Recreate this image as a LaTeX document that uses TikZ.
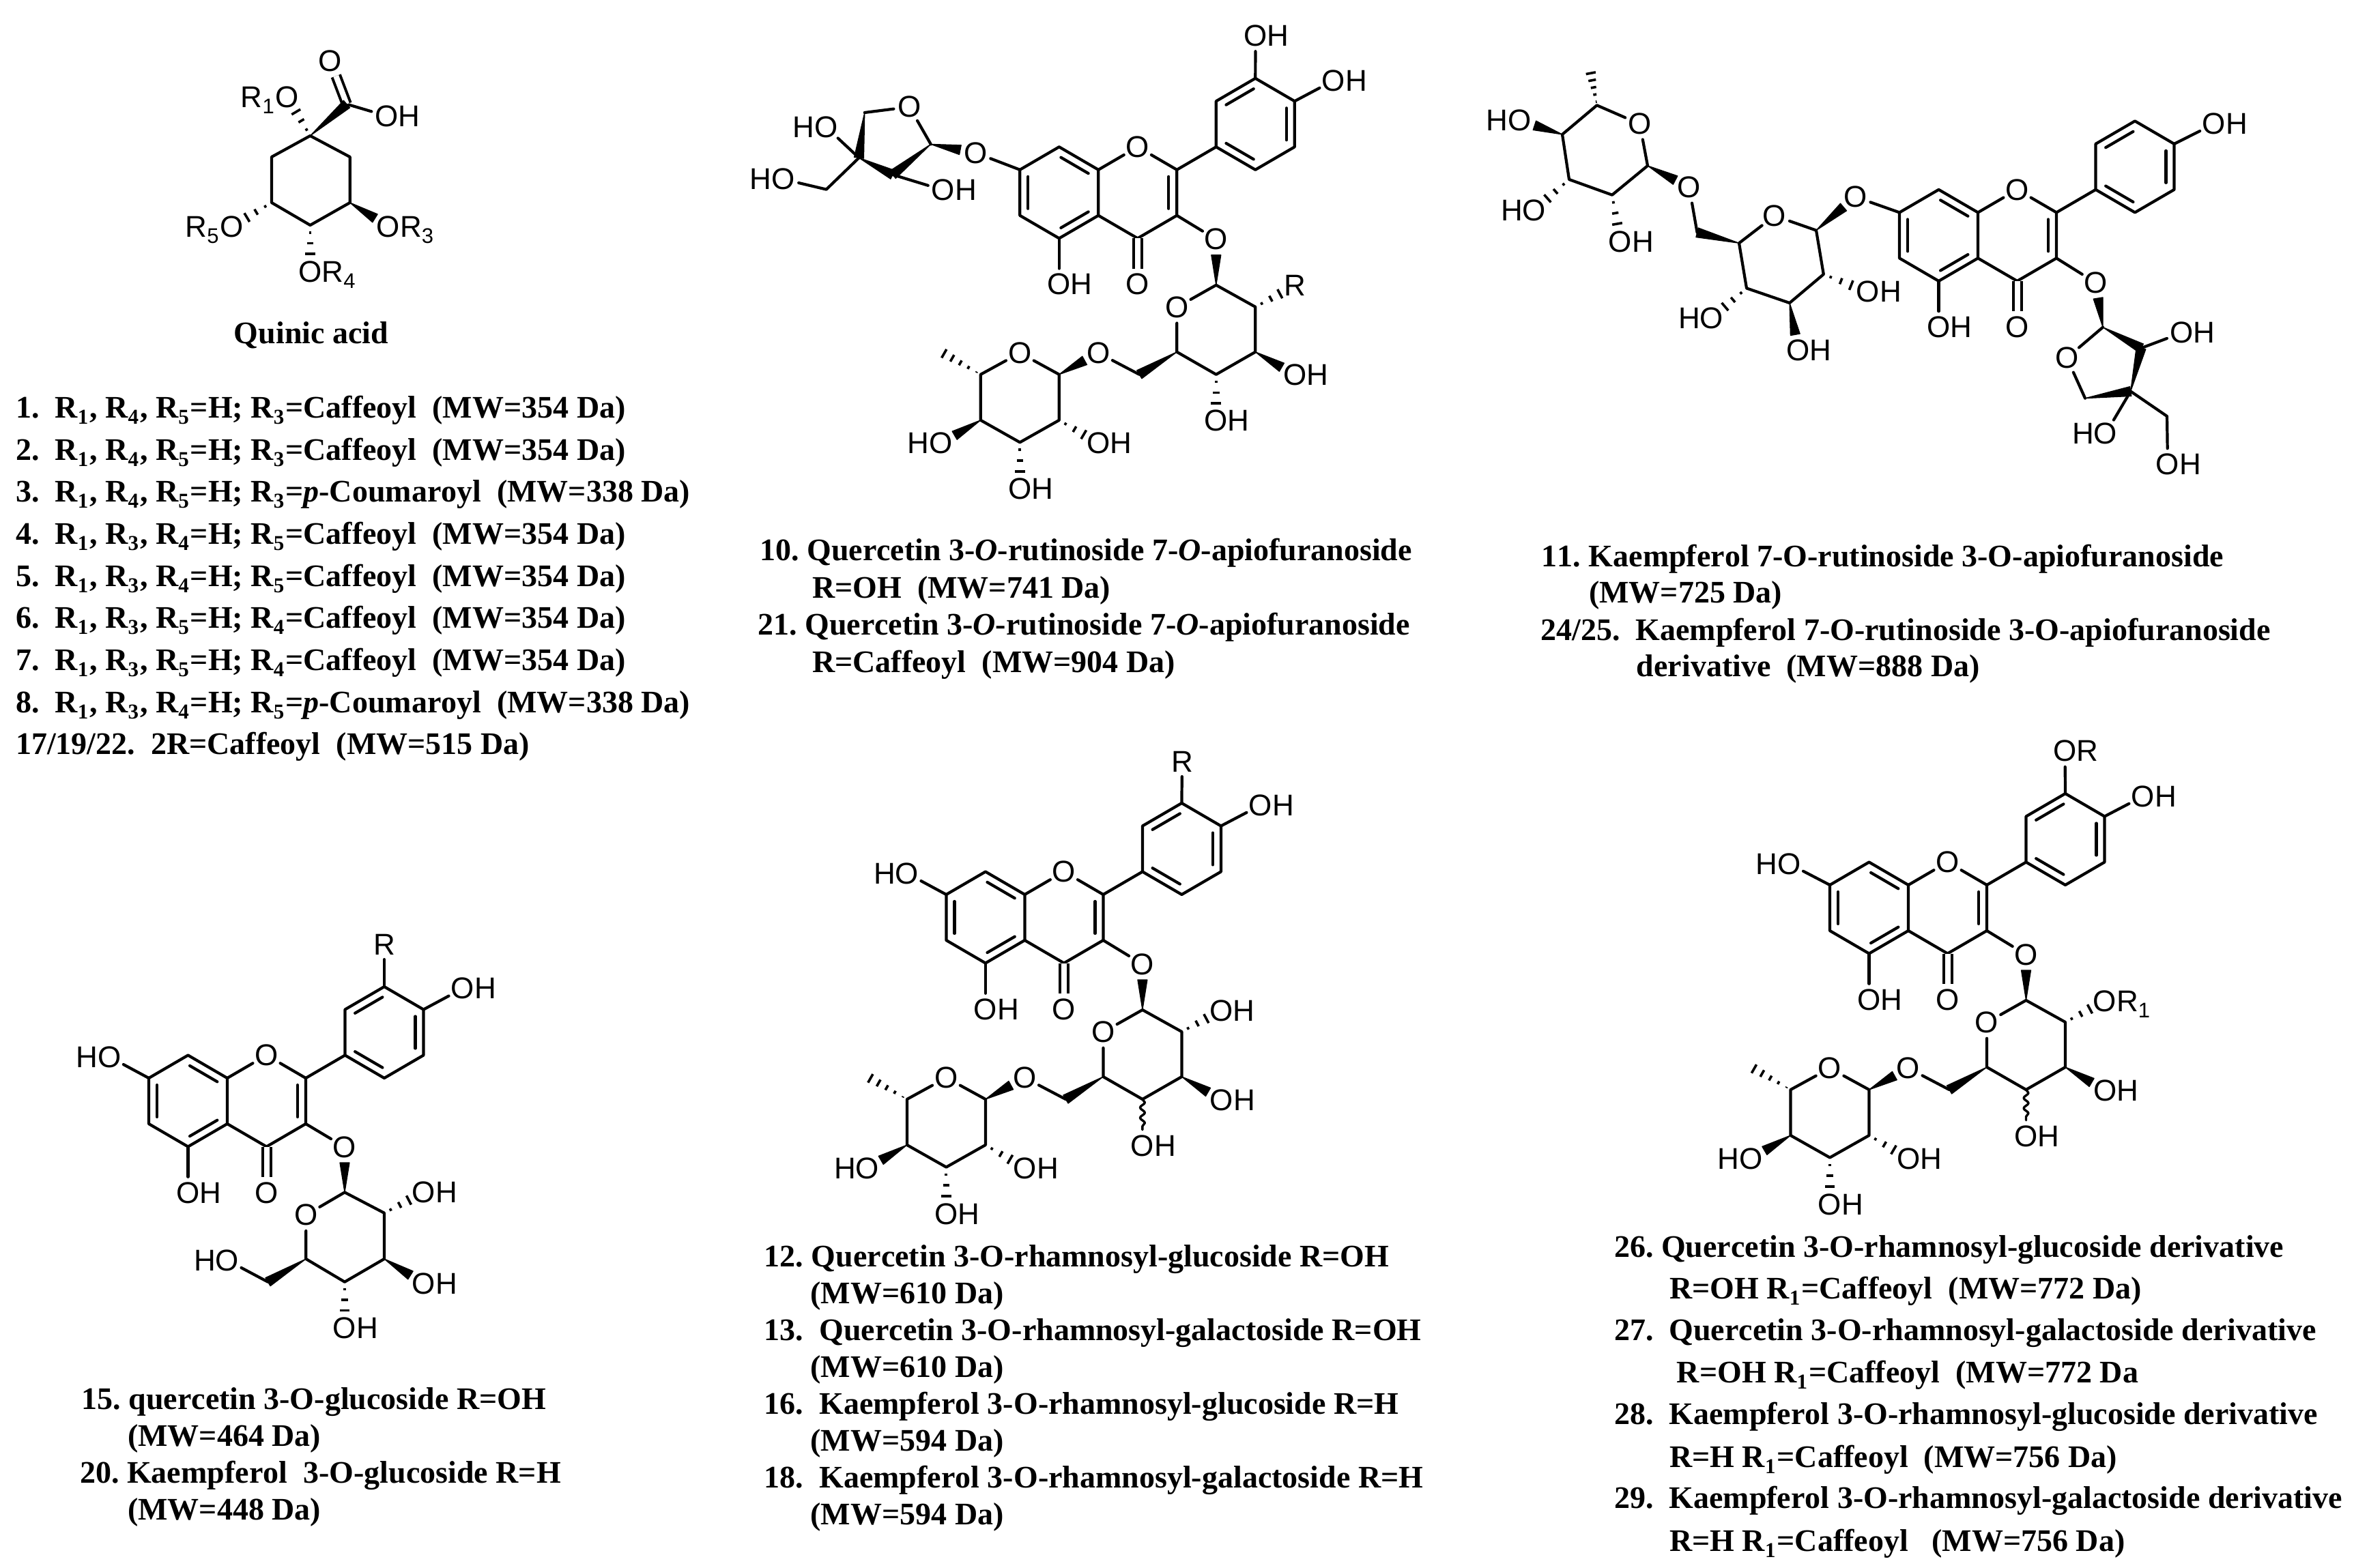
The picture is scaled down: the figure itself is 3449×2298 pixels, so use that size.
\documentclass[tikz,border=0pt]{standalone}
\usepackage{fontspec}
\setmainfont{Liberation Serif}[Kerning=Off]
\newfontfamily\atomfont{Liberation Sans}
\usetikzlibrary{calc,decorations.pathmorphing}
\frenchspacing

\tikzset{
    atom/.style={circle, inner sep=0pt, font=\atomfont\fontsize{44}{44}\selectfont},
    bond/.style={line width=4.2pt, line cap=round, line join=round},
    dbond/.style={line width=4pt, double, double distance=8pt},
    wdg/.style={fill=black, draw=black, line width=1.2pt, line join=round},
    entry/.style={anchor=base west, inner sep=0pt, font=\fontsize{46}{50}\selectfont\bfseries}
}

\newcommand{\rsub}[1]{\smash{\raisebox{-9pt}{\fontsize{31}{31}\selectfont #1}}\kern2pt}
\newcommand{\ohr}{O\rlap{H}}
\newcommand{\ohl}{\llap{H}O}

% ring double bond, inner line on the left of a->b
\newcommand{\dbl}[2]{\draw[bond] ($(#1)!.15!(#2)!12pt!90:(#2)$) -- ($(#2)!.15!(#1)!12pt!-90:(#1)$);}
% wedge ending on a carbon, wedge ending at an atom label
\newcommand{\wedgeb}[2]{\fill[wdg] (#1) -- ($(#2)!7pt!90:(#1)$) -- ($(#2)!7pt!-90:(#1)$) -- cycle;}
\newcommand{\wedgeo}[2]{\coordinate (wend) at ($(#2)!23pt!(#1)$); \wedgeb{#1}{wend}}
% hashed bonds, to an atom label and to a methyl end
\newcommand{\hashb}[2]{\foreach \f in {.16,.39,.62} {\draw[line width=3.6pt] ($(#1)!\f!(#2)!\f*12pt!90:(#2)$) -- ($(#1)!\f!(#2)!\f*12pt!-90:(#2)$);}}
\newcommand{\hashm}[2]{\foreach \f in {.1,.3,.5,.7,.9} {\draw[line width=3.6pt] ($(#1)!\f!(#2)!\f*8pt!90:(#2)$) -- ($(#1)!\f!(#2)!\f*8pt!-90:(#2)$);}}
\newcommand{\wavyb}[2]{\draw[bond, line width=3.4pt, decorate, decoration={snake, amplitude=3.5pt, segment length=15pt}] (#1) -- (#2);}

% flavone skeleton, origin on C8a
\newcommand{\flavcore}{
    \coordinate (c8a) at (0,0);
    \coordinate (c4a) at (0,67);
    \coordinate (c8) at (-57.5,-33.5);
    \coordinate (c7) at (-115,0);
    \coordinate (c6) at (-115,67);
    \coordinate (c5) at (-57.5,100.5);
    \coordinate (c4) at (57.5,100.5);
    \coordinate (c3) at (115,67);
    \coordinate (c2) at (115,0);
    \coordinate (b1) at (172.5,-33.5);
    \coordinate (b2) at (172.5,-100.5);
    \coordinate (b3) at (230,-134);
    \coordinate (b4) at (287.5,-100.5);
    \coordinate (b5) at (287.5,-33.5);
    \coordinate (b6) at (230,0);
    \node[atom] (o1) at (57.5,-33.5) {O};
    \node[atom] (o4) at (57.5,168) {O};
    \node[atom] (o5) at (-57.5,168) {\ohr};
    \draw[bond] (c7) -- (c8) -- (c8a) -- (c4a) -- (c5) -- (c6) -- cycle;
    \draw[bond] (c8a) -- (o1) -- (c2) -- (c3) -- (c4) -- (c4a);
    \draw[bond] (b1) -- (b2) -- (b3) -- (b4) -- (b5) -- (b6) -- cycle;
    \draw[bond] (c2) -- (b1);
    \draw[bond] (c5) -- (o5);
    \draw[dbond] (c4) -- (o4);
    \dbl{c8a}{c8} \dbl{c7}{c6} \dbl{c5}{c4a} \dbl{c3}{c2}
    \dbl{b1}{b6} \dbl{b5}{b4} \dbl{b3}{b2}
}

% 3-O-rutinoside: #1 text on the glucose C2, #2 bond of the glucose C4 hydroxyl
\newcommand{\rutinoside}[2]{
    \node[atom] (o3) at (172.5,102) {O};
    \node[atom] (go) at (115,201.5) {O};
    \node[atom] (g2x) at (288,170) {#1};
    \node[atom] (g3x) at (288.5,301) {\ohr};
    \node[atom] (g4x) at (172.5,368) {\ohr};
    \node[atom] (o6) at (0,268.5) {O};
    \node[atom] (ro) at (-115,268.5) {O};
    \node[atom] (r4x) at (-230.5,401) {\ohl};
    \node[atom] (r2x) at (0.5,401) {\ohr};
    \node[atom] (r3x) at (-115,468) {\ohr};
    \coordinate (g1) at (172.5,169);
    \coordinate (g2) at (230,201);
    \coordinate (g3) at (230,267);
    \coordinate (g4) at (172.5,300);
    \coordinate (g5) at (115,267);
    \coordinate (g6) at (60,300);
    \coordinate (r1) at (-57.5,300);
    \coordinate (r2) at (-57.5,367);
    \coordinate (r3) at (-115,399.5);
    \coordinate (r4) at (-172.5,367);
    \coordinate (r5) at (-172.5,300);
    \coordinate (rm) at (-232,266);
    \draw[bond] (c3) -- (o3);
    \draw[bond] (g1) -- (g2) -- (g3) -- (g4) -- (g5) -- (go) -- (g1);
    \draw[bond] (g6) -- (o6);
    \draw[bond] (r1) -- (r2) -- (r3) -- (r4) -- (r5) -- (ro) -- (r1);
    \wedgeo{g1}{o3} \hashb{g2}{g2x} \wedgeo{g3}{g3x} #2{g4}{g4x}
    \wedgeb{g5}{g6} \wedgeo{r1}{o6} \hashm{r5}{rm}
    \wedgeo{r4}{r4x} \hashb{r2}{r2x} \hashb{r3}{r3x}
}

\begin{document}
\begin{tikzpicture}[x=1pt, y=-1pt]
    \useasboundingbox (0,0) rectangle (3449,2298);

    % quinic acid
    \begin{scope}[name prefix=qa-]
        \coordinate (c1) at (454.5,199);
        \coordinate (c2) at (512.7,230);
        \coordinate (c3) at (512.7,297);
        \coordinate (c4) at (454.5,330);
        \coordinate (c5) at (398,297);
        \coordinate (c6) at (398,230);
        \coordinate (cc) at (508,152.6);
        \node[atom] (oa) at (484,89.6) {O};
        \node[atom] (ob) at (566.6,170) {\ohr};
        \node[atom] (o1) at (421,142.6) {\llap{R\rsub{1}}O};
        \node[atom] (o3) at (569,332) {O\rlap{R\rsub{3}}};
        \node[atom] (o4) at (454.5,398) {O\rlap{R\rsub{4}}};
        \node[atom] (o5) at (339.7,332) {\llap{R\rsub{5}}O};
        \draw[bond] (c1) -- (c2) -- (c3) -- (c4) -- (c5) -- (c6) -- cycle;
        \draw[bond] (cc) -- (ob);
        \draw[dbond] (cc) -- (oa);
        \wedgeb{c1}{cc} \hashb{c1}{o1} \wedgeo{c3}{o3} \hashb{c4}{o4} \hashb{c5}{o5}
    \end{scope}
    \node[entry, anchor=base] (qatitle) at (456,503) {Quinic acid};

    % quercetin rutinoside apiofuranoside
    \begin{scope}[name prefix=qr-]
        \begin{scope}[shift={(1609.3,248.8)}]
            \flavcore
            \rutinoside{R}{\hashb}
        \end{scope}
        \node[atom] (o3p) at (1839.5,52) {\ohr};
        \node[atom] (o4p) at (1954,118) {\ohr};
        \node[atom] (o7) at (1429.5,224) {O};
        \node[atom] (fo) at (1332.5,156.7) {O};
        \node[atom] (fx3) at (1210.7,186.6) {\ohl};
        \node[atom] (fx5) at (1147.6,262.7) {\ohl};
        \node[atom] (fx2) at (1382,278.6) {\ohr};
        \coordinate (f1) at (1363.8,211.4);
        \coordinate (f2) at (1308,256);
        \coordinate (f3) at (1258.5,231.3);
        \coordinate (f4) at (1266.8,165);
        \coordinate (f5) at (1210.7,277.6);
        \draw[bond] (b3) -- (o3p);
        \draw[bond] (b4) -- (o4p);
        \draw[bond] (c7) -- (o7);
        \draw[bond] (f1) -- (fo) -- (f4);
        \draw[bond] (f3) -- (fx3);
        \draw[bond] (f3) -- (f5) -- (fx5);
        \draw[bond] (f2) -- (fx2);
        \wedgeo{f1}{o7} \wedgeb{f4}{f3} \wedgeb{f3}{f2} \wedgeb{f1}{f2}
    \end{scope}

    % kaempferol rutinoside apiofuranoside
    \begin{scope}[name prefix=kr-]
        \begin{scope}[shift={(2898,311.4)}]
            \flavcore
        \end{scope}
        \node[atom] (o4p) at (3244,181.6) {\ohr};
        \node[atom] (o7) at (2718.5,288.6) {O};
        \node[atom] (go) at (2600,316.3) {O};
        \node[atom] (o6) at (2475,274.7) {O};
        \node[atom] (ro) at (2402.5,181.6) {O};
        \node[atom] (g2x) at (2737,427.8) {\ohr};
        \node[atom] (g3x) at (2634.3,513) {\ohr};
        \node[atom] (g4x) at (2508,466) {\ohl};
        \node[atom] (r4x) at (2226.5,176.7) {\ohl};
        \node[atom] (r3x) at (2248,308) {\ohl};
        \node[atom] (r2x) at (2374,354) {\ohr};
        \coordinate (g1) at (2661,337.6);
        \coordinate (g2) at (2671.8,402);
        \coordinate (g3) at (2622,444);
        \coordinate (g4) at (2559,422.4);
        \coordinate (g5) at (2548,356.3);
        \coordinate (g6) at (2486.6,340.8);
        \coordinate (r1) at (2414,242.9);
        \coordinate (r2) at (2362,285.7);
        \coordinate (r3) at (2299,263);
        \coordinate (r4) at (2289,197);
        \coordinate (r5) at (2339.7,154.3);
        \coordinate (rm) at (2329.8,102);
        \node[atom] (o3) at (3070.4,414.3) {O};
        \node[atom] (ao) at (3028.3,524.5) {O};
        \node[atom] (ax2) at (3196.7,487.8) {\ohr};
        \node[atom] (ax3) at (3085,635.5) {\ohl};
        \node[atom] (ax5) at (3176,680.4) {\ohr};
        \coordinate (a1) at (3081,479.6);
        \coordinate (a2) at (3137,510.2);
        \coordinate (a3) at (3121.7,573.5);
        \coordinate (a4) at (3055,583.7);
        \coordinate (a5) at (3175,610);
        \draw[bond] (b4) -- (o4p);
        \draw[bond] (c7) -- (o7);
        \draw[bond] (g1) -- (g2) -- (g3) -- (g4) -- (g5) -- (go) -- (g1);
        \draw[bond] (g6) -- (o6);
        \draw[bond] (r1) -- (r2) -- (r3) -- (r4) -- (r5) -- (ro) -- (r1);
        \wedgeo{g1}{o7} \hashb{g2}{g2x} \wedgeo{g3}{g3x} \hashb{g4}{g4x}
        \wedgeb{g5}{g6} \wedgeo{r1}{o6} \hashm{r5}{rm}
        \wedgeo{r4}{r4x} \hashb{r3}{r3x} \hashb{r2}{r2x}
        \draw[bond] (c3) -- (o3);
        \draw[bond] (a1) -- (ao) -- (a4);
        \draw[bond] (a2) -- (ax2);
        \draw[bond] (a3) -- (ax3);
        \draw[bond] (a3) -- (a5) -- (ax5);
        \wedgeo{a1}{o3} \wedgeb{a1}{a2} \wedgeb{a3}{a2} \wedgeb{a4}{a3}
    \end{scope}

    % flavonol 3-O-glucoside
    \begin{scope}[name prefix=fg-]
        \begin{scope}[shift={(333,1580)}]
            \flavcore
        \end{scope}
        \node[atom] (rr) at (563,1384) {R};
        \node[atom] (o4p) at (678,1448.6) {\ohr};
        \node[atom] (o7) at (160.4,1549) {\ohl};
        \node[atom] (o3) at (505,1681) {O};
        \node[atom] (go) at (448.3,1780.6) {O};
        \node[atom] (g2x) at (621,1747.4) {\ohr};
        \node[atom] (g3x) at (621,1881) {\ohr};
        \node[atom] (g4x) at (505,1946) {\ohr};
        \node[atom] (g6x) at (333,1847) {\ohl};
        \coordinate (g1) at (505,1747.4);
        \coordinate (g2) at (563,1777.7);
        \coordinate (g3) at (563,1845);
        \coordinate (g4) at (505,1878.7);
        \coordinate (g5) at (448.3,1845);
        \coordinate (g6) at (392.5,1878.7);
        \draw[bond] (b3) -- (rr);
        \draw[bond] (b4) -- (o4p);
        \draw[bond] (c7) -- (o7);
        \draw[bond] (c3) -- (o3);
        \draw[bond] (g1) -- (g2) -- (g3) -- (g4) -- (g5) -- (go) -- (g1);
        \draw[bond] (g6) -- (g6x);
        \wedgeo{g1}{o3} \hashb{g2}{g2x} \wedgeo{g3}{g3x} \hashb{g4}{g4x} \wedgeb{g5}{g6}
    \end{scope}

    % flavonol 3-O-rhamnosyl-hexoside
    \begin{scope}[name prefix=fr-]
        \begin{scope}[shift={(1501.4,1311)}]
            \flavcore
            \rutinoside{\ohr}{\wavyb}
        \end{scope}
        \node[atom] (rr) at (1732,1116) {R};
        \node[atom] (o4p) at (1847,1180) {\ohr};
        \node[atom] (o7) at (1329,1280) {\ohl};
        \draw[bond] (b3) -- (rr);
        \draw[bond] (b4) -- (o4p);
        \draw[bond] (c7) -- (o7);
    \end{scope}

    % acylated flavonol 3-O-rhamnosyl-hexoside
    \begin{scope}[name prefix=fa-]
        \begin{scope}[shift={(2796,1297)}]
            \flavcore
            \rutinoside{O\rlap{R\rsub{1}}}{\wavyb}
        \end{scope}
        \node[atom] (rr) at (3025.5,1100.6) {O\rlap{R}};
        \node[atom] (o4p) at (3140,1167) {\ohr};
        \node[atom] (o7) at (2621.4,1266) {\ohl};
        \draw[bond] (b3) -- (rr);
        \draw[bond] (b4) -- (o4p);
        \draw[bond] (c7) -- (o7);
    \end{scope}

    % compound lists
    \node[entry] (l1) at (23,612) {1.~~R\rsub{1}, R\rsub{4}, R\rsub{5}=H; R\rsub{3}=Caffeoyl~~(MW=354 Da)};
    \node[entry] (l2) at (23,674) {2.~~R\rsub{1}, R\rsub{4}, R\rsub{5}=H; R\rsub{3}=Caffeoyl~~(MW=354 Da)};
    \node[entry] (l3) at (23,735.7) {3.~~R\rsub{1}, R\rsub{4}, R\rsub{5}=H; R\rsub{3}=\textit{p}-Coumaroyl~~(MW=338 Da)};
    \node[entry] (l4) at (23,797) {4.~~R\rsub{1}, R\rsub{3}, R\rsub{4}=H; R\rsub{5}=Caffeoyl~~(MW=354 Da)};
    \node[entry] (l5) at (23,859) {5.~~R\rsub{1}, R\rsub{3}, R\rsub{4}=H; R\rsub{5}=Caffeoyl~~(MW=354 Da)};
    \node[entry] (l6) at (23,920.7) {6.~~R\rsub{1}, R\rsub{3}, R\rsub{5}=H; R\rsub{4}=Caffeoyl~~(MW=354 Da)};
    \node[entry] (l7) at (23,982) {7.~~R\rsub{1}, R\rsub{3}, R\rsub{5}=H; R\rsub{4}=Caffeoyl~~(MW=354 Da)};
    \node[entry] (l8) at (23,1044) {8.~~R\rsub{1}, R\rsub{3}, R\rsub{4}=H; R\rsub{5}=\textit{p}-Coumaroyl~~(MW=338 Da)};
    \node[entry] (l9) at (23,1105.7) {17/19/22.~~2R=Caffeoyl~~(MW=515 Da)};

    \node[entry] (m1) at (1113,821.7) {10. Quercetin 3-\textit{O}-rutinoside 7-\textit{O}-apiofuranoside};
    \node[entry] (m2) at (1190,876.7) {R=OH~~(MW=741 Da)};
    \node[entry] (m3) at (1110,930.7) {21. Quercetin 3-\textit{O}-rutinoside 7-\textit{O}-apiofuranoside};
    \node[entry] (m4) at (1190,985) {R=Caffeoyl~~(MW=904 Da)};

    \node[entry] (k1) at (2258.6,830) {11. Kaempferol 7-O-rutinoside 3-O-apiofuranoside};
    \node[entry] (k2) at (2328,883) {(MW=725 Da)};
    \node[entry] (k3) at (2257,938) {24/25.~~Kaempferol 7-O-rutinoside 3-O-apiofuranoside};
    \node[entry] (k4) at (2397.7,991.7) {derivative~~(MW=888 Da)};

    \node[entry] (g1t) at (119.4,2065) {15. quercetin 3-O-glucoside R=OH};
    \node[entry] (g2t) at (187,2119) {(MW=464 Da)};
    \node[entry] (g3t) at (117,2173) {20. Kaempferol~~3-O-glucoside R=H};
    \node[entry] (g4t) at (187,2227) {(MW=448 Da)};

    \node[entry] (h1) at (1119.7,1856) {12. Quercetin 3-O-rhamnosyl-glucoside R=OH};
    \node[entry] (h2) at (1187.4,1910) {(MW=610 Da)};
    \node[entry] (h3) at (1119.7,1964) {13.~~Quercetin 3-O-rhamnosyl-galactoside R=OH};
    \node[entry] (h4) at (1187.4,2018.3) {(MW=610 Da)};
    \node[entry] (h5) at (1119.7,2072.3) {16.~~Kaempferol 3-O-rhamnosyl-glucoside R=H};
    \node[entry] (h6) at (1187.4,2126.7) {(MW=594 Da)};
    \node[entry] (h7) at (1119.7,2180) {18.~~Kaempferol 3-O-rhamnosyl-galactoside R=H};
    \node[entry] (h8) at (1187.4,2234.3) {(MW=594 Da)};

    \node[entry] (d1) at (2364.8,1842.3) {26. Quercetin 3-O-rhamnosyl-glucoside derivative};
    \node[entry] (d2) at (2446,1903) {R=OH R\rsub{1}=Caffeoyl~~(MW=772 Da)};
    \node[entry] (d3) at (2364.8,1964.3) {27.~~Quercetin 3-O-rhamnosyl-galactoside derivative};
    \node[entry] (d4) at (2456.7,2026.7) {R=OH R\rsub{1}=Caffeoyl~~(MW=772 Da};
    \node[entry] (d5) at (2364.8,2087.3) {28.~~Kaempferol 3-O-rhamnosyl-glucoside derivative};
    \node[entry] (d6) at (2446,2150) {R=H R\rsub{1}=Caffeoyl~~(MW=756 Da)};
    \node[entry] (d7) at (2364.8,2210.7) {29.~~Kaempferol 3-O-rhamnosyl-galactoside derivative};
    \node[entry] (d8) at (2446,2273.3) {R=H R\rsub{1}=Caffeoyl~~~(MW=756 Da)};
\end{tikzpicture}
\end{document}
